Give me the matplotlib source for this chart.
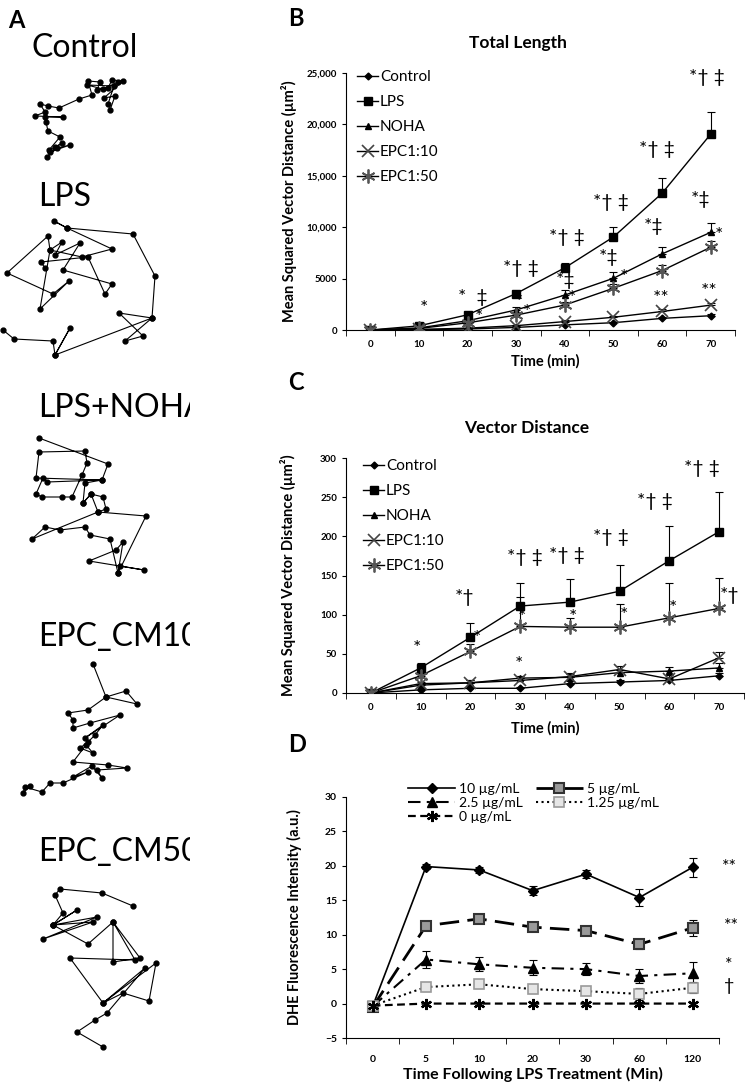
import numpy as np
import matplotlib
matplotlib.use("Agg")
import matplotlib.pyplot as plt

plt.rcParams['font.family'] = ['Lato', 'DejaVu Sans']

W, H = 750, 1082

# ---- panel A: cell tracks (image pixel units) ----
ctrl_x = [47, 57, 70, 50, 62, 55, 49, 60, 48, 46, 45, 63, 35, 45, 40, 48, 59, 79, 92, 88, 100, 97, 108, 112, 123, 104, 115, 110, 108, 114, 87, 103, 118]
ctrl_y = [157, 148, 145, 152, 143, 147, 150, 137, 131, 122, 117, 117, 116, 112, 104, 106, 108, 99, 95, 81, 82, 90, 88, 80, 81, 98, 96, 110, 104, 86, 85, 89, 82]
lps_x = [3, 14, 53, 55, 70, 55, 152, 119, 143, 125, 152, 155, 133, 67, 54, 67, 112, 82, 50, 48, 7, 53, 69, 40, 50, 62, 55, 80, 63, 112, 105, 88, 41, 45]
lps_y = [330, 339, 341, 355, 328, 355, 318, 313, 336, 341, 318, 276, 234, 228, 221, 228, 249, 257, 250, 236, 273, 294, 281, 309, 250, 242, 255, 243, 270, 284, 294, 257, 262, 268]
noha_x = [39, 108, 102, 36, 39, 85, 87, 82, 72, 62, 42, 36, 43, 47, 102, 85, 83, 91, 103, 106, 98, 146, 118, 120, 144, 89, 116, 123, 118, 110, 90, 85, 60, 45, 32, 98, 91, 83]
noha_y = [438, 464, 480, 478, 452, 451, 463, 475, 497, 497, 497, 494, 478, 482, 480, 483, 503, 494, 497, 509, 512, 516, 573, 566, 570, 561, 550, 542, 573, 539, 535, 527, 530, 527, 539, 512, 494, 503]
cm10_x = [93, 106, 126, 137, 106, 88, 68, 73, 73, 90, 120, 85, 103, 95, 88, 80, 93, 86, 73, 108, 127, 97, 102, 92, 73, 88, 63, 50, 42, 25, 23, 30]
cm10_y = [664, 697, 691, 704, 697, 710, 713, 720, 728, 723, 715, 738, 725, 735, 742, 748, 753, 745, 762, 765, 768, 770, 778, 766, 777, 772, 783, 783, 792, 787, 793, 786]
cm50_x = [133, 102, 60, 55, 63, 53, 77, 53, 97, 43, 93, 53, 88, 113, 140, 113, 113, 135, 70, 103, 156, 149, 123, 103, 145, 107, 95, 77, 103]
cm50_y = [906, 893, 889, 895, 913, 925, 910, 925, 917, 939, 922, 925, 944, 922, 958, 962, 922, 960, 958, 1003, 963, 1001, 993, 1003, 968, 1013, 1020, 1032, 1047]

track_names = ['Control', 'LPS', 'LPS+NOHA', 'EPC_CM10', 'EPC_CM50']
track_label_y = [48, 197, 408, 637, 852]
track_label_x = [31, 38, 38, 38, 38]
tracks = [(ctrl_x, ctrl_y), (lps_x, lps_y), (noha_x, noha_y), (cm10_x, cm10_y), (cm50_x, cm50_y)]

# ---- panel B / C: motility time courses ----
time_min = [0, 10, 20, 30, 40, 50, 60, 70]
motility_groups = ['Control', 'LPS', 'NOHA', 'EPC1:10', 'EPC1:50']

total_length = {
    'Control': [0, 30, 100, 250, 500, 710, 1130, 1390],
    'LPS': [0, 400, 1480, 3550, 6050, 9050, 13300, 19050],
    'NOHA': [0, 200, 900, 1950, 3400, 5030, 7400, 9500],
    'EPC1:10': [0, 50, 180, 420, 820, 1240, 1800, 2420],
    'EPC1:50': [0, 150, 700, 1450, 2430, 4060, 5780, 8050],
}
total_length_err = {
    'Control': [0, 20, 40, 60, 80, 100, 120, 150],
    'LPS': [0, 80, 250, 200, 500, 1000, 1500, 2200],
    'NOHA': [0, 50, 150, 300, 450, 600, 700, 900],
    'EPC1:10': [0, 20, 50, 80, 120, 150, 200, 250],
    'EPC1:50': [0, 40, 120, 200, 300, 400, 500, 600],
}
vector_dist = {
    'Control': [0, 4, 6, 6, 12, 14, 16, 22],
    'LPS': [0, 32, 71, 111, 116, 130, 169, 206],
    'NOHA': [0, 10, 13, 19, 20, 26, 28, 32],
    'EPC1:10': [0, 12, 13, 16, 21, 30, 18, 45],
    'EPC1:50': [0, 22, 53, 85, 84, 84, 96, 108],
}
vector_dist_err = {
    'Control': [0, 1, 2, 2, 3, 3, 3, 4],
    'LPS': [0, 6, 18, 30, 30, 34, 44, 51],
    'NOHA': [0, 2, 3, 3, 4, 4, 5, 6],
    'EPC1:10': [0, 2, 3, 3, 4, 4, 5, 7],
    'EPC1:50': [0, 4, 10, 38, 12, 30, 44, 39],
}

# significance marks: (time, value, text)
marks_b = [(11, 2140, '*'), (21, 3200, '*  ‡'), (31, 6030, '*† ‡'), (40.5, 8950, '*† ‡'),
           (49.5, 12360, '*† ‡'), (59, 17510, '*† ‡'), (69.2, 24520, '*† ‡'),
           (58.3, 10020, '*‡'), (68, 12650, '*‡'), (49, 7100, '*‡'), (40.2, 4860, '*‡'),
           (52.2, 5060, '*'), (41.5, 3110, '*'), (30.6, 2630, '*'), (32.2, 1750, '*'),
           (22.4, 1170, '*'), (71.7, 9240, '*'), (59.9, 3110, '**'), (69.6, 3700, '**')]
marks_c = [(9.3, 57, '*'), (18.9, 122, '*†'), (31, 173, '*† ‡'), (39.5, 175, '*† ‡'),
           (48.3, 198, '*† ‡'), (57, 245, '*† ‡'), (66.5, 286, '*† ‡'), (72.2, 125, '*†'),
           (21.3, 70, '*'), (30.4, 96, '*'), (40.6, 96, '*'), (50.9, 99, '*'),
           (60.8, 108, '*'), (29.8, 37, '*')]

# ---- panel D: DHE fluorescence ----
dhe_time_labels = ['0', '5', '10', '20', '30', '60', '120']
dhe_doses = ['10 µg/mL', '5 µg/mL', '2.5 µg/mL', '1.25 µg/mL', '0 µg/mL']
dhe_mean = {
    '10 µg/mL': [-0.4, 19.9, 19.4, 16.4, 18.8, 15.4, 19.8],
    '5 µg/mL': [-0.5, 11.3, 12.3, 11.1, 10.6, 8.6, 11.0],
    '2.5 µg/mL': [-0.4, 6.4, 5.7, 5.2, 5.0, 4.0, 4.4],
    '1.25 µg/mL': [-0.3, 2.4, 2.8, 2.1, 1.8, 1.4, 2.3],
    '0 µg/mL': [-0.3, 0.0, 0.0, 0.0, 0.0, 0.0, 0.0],
}
dhe_err = {
    '10 µg/mL': [0.3, 0.4, 0.5, 0.7, 0.6, 1.3, 1.4],
    '5 µg/mL': [0.3, 0.5, 0.5, 0.5, 0.5, 0.7, 1.2],
    '2.5 µg/mL': [0.3, 1.2, 1.0, 1.1, 0.9, 1.0, 1.6],
    '1.25 µg/mL': [0.3, 0.6, 0.6, 0.6, 0.6, 0.9, 0.8],
    '0 µg/mL': [0.2, 0.2, 0.2, 0.2, 0.2, 0.2, 0.2],
}
dhe_marks = [(6.68, 19.9, '**'), (6.72, 11.2, '**'), (6.68, 5.6, '*'), (6.68, 2.5, '†')]


def fpos(l, t, r, b):
    return [l / W, 1 - b / H, (r - l) / W, (b - t) / H]


def ftxt(x, y):
    return x / W, 1 - y / H


fig = plt.figure(figsize=(7.5, 10.82), dpi=100)

# ---------------- A ----------------
axA = fig.add_axes([0, 0, 190 / W, 1])
axA.set_xlim(0, 190)
axA.set_ylim(H, 0)
axA.axis('off')
for (tx, ty) in tracks:
    axA.plot(tx, ty, color='black', lw=0.8, marker='o', ms=3.5)
for name, lx, ly in zip(track_names, track_label_x, track_label_y):
    axA.text(lx, ly, name, fontsize=23, va='center', ha='left', clip_on=True)
fig.text(*ftxt(8, 20), 'A', fontsize=17, fontweight='bold', va='center', ha='left')

# ---------------- B / C ----------------
styles = {
    'Control': dict(marker='D', ms=3.5, color='black', mfc='black', mec='black'),
    'LPS': dict(marker='s', ms=6, color='black', mfc='black', mec='black'),
    'NOHA': dict(marker='^', ms=5, color='black', mfc='black', mec='black'),
    'EPC1:10': dict(marker='x', ms=8, color='black', mfc='none', mec='#444444', mew=1.2),
    'EPC1:50': dict(marker=(6, 2, 0), ms=10, color='black', mfc='none', mec='#555555', mew=1.3),
}


def motility_axes(rect, data, err, ylim, yticks, yticklabels, marks, title, title_xy, xlabel_y, leg_xy):
    ax = fig.add_axes(rect)
    for g in motility_groups:
        st = styles[g]
        ax.errorbar(time_min, data[g], yerr=[np.zeros(len(err[g])), err[g]], fmt='none',
                    ecolor='black', elinewidth=0.8, capsize=3, capthick=0.8, zorder=2)
        ax.plot(time_min, data[g], lw=1.0, label=g, zorder=3, **st)
    ax.set_xlim(-5, 75)
    ax.set_ylim(*ylim)
    ax.set_xticks(time_min)
    ax.set_xticks(np.arange(-5, 80, 10), minor=True)
    ax.tick_params(axis='x', which='major', length=0, pad=7, labelsize=7)
    ax.tick_params(axis='x', which='minor', length=4, direction='out')
    ax.set_yticks(yticks)
    ax.set_yticklabels(yticklabels)
    ax.tick_params(axis='y', labelsize=7, length=3)
    for lab in ax.get_xticklabels() + ax.get_yticklabels():
        lab.set_fontweight('bold')
    for s in ['top', 'right']:
        ax.spines[s].set_visible(False)
    ax.set_ylabel('Mean Squared Vector Distance (µm²)', fontsize=10.5, fontweight='bold')
    ax.yaxis.set_label_coords(-0.125, 0.5)
    for mx, my, mt in marks:
        ax.text(mx, my, mt, fontsize=14, ha='center', va='center', clip_on=False)
    fig.text(*ftxt(*title_xy), title, fontsize=12.5, fontweight='bold', ha='center', va='center')
    fig.text(*ftxt(545, xlabel_y), 'Time (min)', fontsize=10.5, fontweight='bold', ha='center', va='center')
    ax.legend(loc='upper left', bbox_to_anchor=ftxt(*leg_xy), bbox_transform=fig.transFigure,
              frameon=False, fontsize=11, handlelength=1.4, handletextpad=0.1,
              labelspacing=0.72, borderpad=0, borderaxespad=0)
    return ax


axB = motility_axes(fpos(346, 73, 735, 330), total_length, total_length_err, (0, 25000),
                    [0, 5000, 10000, 15000, 20000, 25000],
                    ['0', '5000', '10,000', '15,000', '20,000', '25,000'],
                    marks_b, 'Total Length', (518, 43), 361, (357, 70))
axC = motility_axes(fpos(346, 458, 744, 693), vector_dist, vector_dist_err, (0, 300),
                    [0, 50, 100, 150, 200, 250, 300],
                    ['0', '50', '100', '150', '200', '250', '300'],
                    marks_c, 'Vector Distance', (527, 428), 728, (363, 459))
fig.text(*ftxt(288, 18), 'B', fontsize=17, fontweight='bold', va='center', ha='left')
fig.text(*ftxt(288, 383), 'C', fontsize=17, fontweight='bold', va='center', ha='left')

# ---------------- D ----------------
axD = fig.add_axes(fpos(346, 797, 719.4, 1038))
xi = np.arange(len(dhe_time_labels))
dstyles = {
    '10 µg/mL': dict(marker='D', ms=5.5, mfc='black', mec='black', lw=1.2, ls='-'),
    '5 µg/mL': dict(marker='s', ms=7.5, mfc='#9a9a9a', mec='#333333', mew=1.5, lw=2.0, dashes=(7, 3)),
    '2.5 µg/mL': dict(marker='^', ms=6.5, mfc='black', mec='black', lw=1.5, dashes=(6, 3, 1.5, 3)),
    '1.25 µg/mL': dict(marker='s', ms=6.5, mfc='#e6e6e6', mec='#9a9a9a', mew=1.2, lw=1.5, ls=':'),
    '0 µg/mL': dict(marker=(6, 2, 0), ms=8, mfc='black', mec='black', mew=1.6, lw=1.6, dashes=(3.5, 2)),
}
for d in dhe_doses:
    axD.errorbar(xi, dhe_mean[d], yerr=dhe_err[d], fmt='none', ecolor='black',
                 elinewidth=0.8, capsize=3, capthick=0.8, zorder=2)
    axD.plot(xi, dhe_mean[d], color='black', label=d, zorder=3, **dstyles[d])
axD.set_xlim(-0.5, len(xi) - 0.5)
axD.set_ylim(-5, 30)
axD.set_xticks(xi)
axD.set_xticklabels(dhe_time_labels)
axD.set_xticks(np.arange(-0.5, len(xi), 1), minor=True)
axD.tick_params(axis='x', which='major', length=0, pad=12, labelsize=7.5)
axD.tick_params(axis='x', which='minor', length=4, direction='out')
axD.set_yticks(np.arange(-5, 31, 5))
axD.tick_params(axis='y', labelsize=7.5, length=3)
for lab in axD.get_xticklabels() + axD.get_yticklabels():
    lab.set_fontweight('bold')
for s in ['top', 'right']:
    axD.spines[s].set_visible(False)
axD.set_ylabel('DHE Fluorescence Intensity (a.u.)', fontsize=10.5, fontweight='bold')
axD.yaxis.set_label_coords(-0.118, 0.5)
axD.set_xlabel('Time Following LPS Treatment (Min)', fontsize=11.5, fontweight='bold', labelpad=2)
for mx, my, mt in dhe_marks:
    axD.text(mx, my, mt, fontsize=13, ha='center', va='center', clip_on=False)
# legend filled row by row: 10 | 5 / 2.5 | 1.25 / 0
hd, lb = axD.get_legend_handles_labels()
order = [0, 2, 4, 1, 3]
axD.legend([hd[i] for i in order], [lb[i] for i in order], loc='upper left',
           bbox_to_anchor=ftxt(408, 783), bbox_transform=fig.transFigure,
           ncol=2, frameon=False, fontsize=10, handlelength=3.4, handletextpad=0.3,
           columnspacing=0.9, labelspacing=0.15, borderpad=0, borderaxespad=0)
fig.text(*ftxt(288, 745), 'D', fontsize=17, fontweight='bold', va='center', ha='left')

fig.savefig('out.png', dpi=100)
